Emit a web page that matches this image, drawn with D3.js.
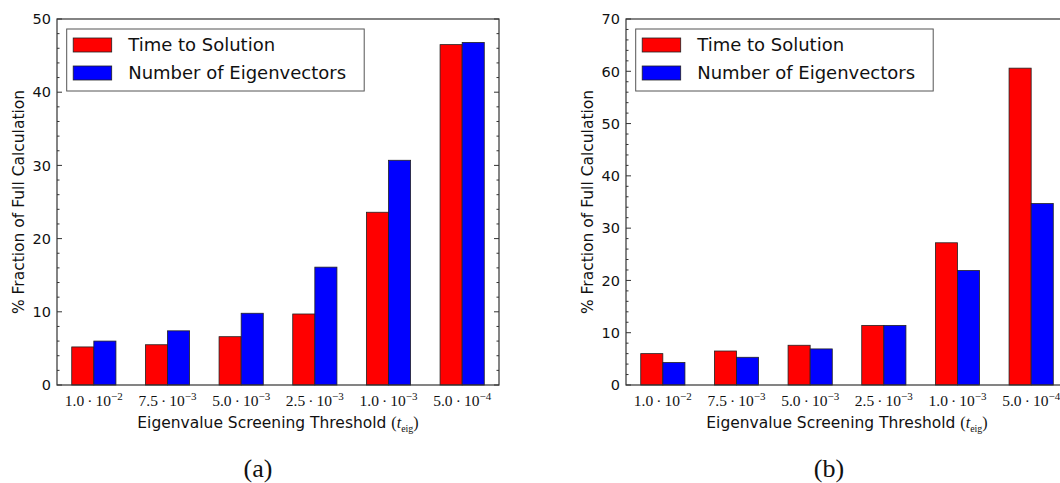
<!DOCTYPE html>
<html>
<head>
<meta charset="utf-8">
<script src="https://cdn.jsdelivr.net/npm/d3@7"></script>
<style>
  body { margin: 0; background: #fff; }
  svg { display: block; }
</style>
</head>
<body>
<div id="chart"></div>
<script>
// threshold categories (mantissa, exponent)
const thresholds = [
    ["1.0", "−2"], ["7.5", "−3"], ["5.0", "−3"],
    ["2.5", "−3"], ["1.0", "−3"], ["5.0", "−4"]
];
const seriesNames = ["Time to Solution", "Number of Eigenvectors"];
const seriesColors = ["#ff0000", "#0000ff"];

// panel (a)
const timeA = [5.2, 5.5, 6.6, 9.7, 23.6, 46.5];
const eigA = [6.0, 7.4, 9.8, 16.1, 30.7, 46.8];
const yTicksA = [0, 10, 20, 30, 40, 50];

// panel (b)
const timeB = [6.0, 6.5, 7.6, 11.4, 27.2, 60.6];
const eigB = [4.3, 5.3, 6.9, 11.4, 21.9, 34.7];
const yTicksB = [0, 10, 20, 30, 40, 50, 60, 70];

const W = 1060, H = 483;
const sansFont = "'DejaVu Sans', sans-serif";
const serifFont = "'Liberation Serif', 'DejaVu Serif', serif";

const svg = d3.select("#chart").append("svg")
    .attr("width", W)
    .attr("height", H);

const drawPanel = (opts) => {
    const { left, right, top, bottom, series, yMax, yTicks, caption, captionX } = opts;

    const x = d3.scaleLinear().domain([0, thresholds.length]).range([left, right]);
    const y = d3.scaleLinear().domain([0, yMax]).range([bottom, top]);

    const g = svg.append("g");

    // bars
    series.forEach((vals, s) => {
        g.append("g")
            .selectAll("rect")
            .data(vals)
            .join("rect")
            .attr("x", (d, i) => x(i + 0.2 + s * 0.3))
            .attr("width", x(0.3) - x(0))
            .attr("y", d => y(d))
            .attr("height", d => y(0) - y(d))
            .attr("fill", seriesColors[s])
            .attr("stroke", "#222")
            .attr("stroke-width", 0.8);
    });

    // minor + major ticks, inward on both sides
    const minor = d3.range(0, yMax + 0.001, 2);
    const tickG = g.append("g").attr("stroke", "#333").attr("stroke-width", 1);
    [[left, 1], [right, -1]].forEach(([xx, dir]) => {
        tickG.selectAll(null)
            .data(minor)
            .join("line")
            .attr("x1", xx)
            .attr("x2", d => xx + dir * (yTicks.includes(d) ? 5 : 2.5))
            .attr("y1", d => y(d))
            .attr("y2", d => y(d));
    });

    // frame
    g.append("rect")
        .attr("x", left)
        .attr("y", top)
        .attr("width", right - left)
        .attr("height", bottom - top)
        .attr("fill", "none")
        .attr("stroke", "#333")
        .attr("stroke-width", 1.2);

    // y tick labels
    g.append("g")
        .selectAll("text")
        .data(yTicks)
        .join("text")
        .attr("x", left - 6)
        .attr("y", d => y(d))
        .attr("dy", "0.36em")
        .attr("text-anchor", "end")
        .style("font", `14.5px ${sansFont}`)
        .attr("fill", "#111")
        .text(d => d);

    // x tick labels with exponents
    const xl = g.append("g")
        .selectAll("text")
        .data(thresholds)
        .join("text")
        .attr("x", (d, i) => x(i + 0.5))
        .attr("y", 406)
        .attr("text-anchor", "middle")
        .style("font", `15.5px ${serifFont}`)
        .attr("fill", "#111");
    xl.append("tspan").text(d => d[0] + "\u2009·\u200910");
    xl.append("tspan")
        .attr("dy", -6)
        .style("font-size", "11px")
        .text(d => d[1]);

    // axis labels
    const xLabel = g.append("text")
        .attr("x", (left + right) / 2)
        .attr("y", 428)
        .attr("text-anchor", "middle")
        .style("font", `15.5px ${sansFont}`)
        .attr("fill", "#111");
    xLabel.append("tspan").text("Eigenvalue Screening Threshold ");
    xLabel.append("tspan").style("font-family", serifFont).style("font-size", "16px").text("(");
    xLabel.append("tspan").style("font-family", serifFont).style("font-style", "italic").style("font-size", "16px").text("t");
    xLabel.append("tspan").style("font-family", serifFont).style("font-size", "10px").attr("dy", 4).text("eig");
    xLabel.append("tspan").style("font-family", serifFont).style("font-size", "16px").attr("dy", -4).text(")");

    g.append("text")
        .attr("transform", `translate(${left - 39},${(top + bottom) / 2}) rotate(-90)`)
        .attr("text-anchor", "middle")
        .attr("dy", "0.36em")
        .style("font", `15.5px ${sansFont}`)
        .attr("fill", "#111")
        .text("% Fraction of Full Calculation");

    // legend
    const lg = g.append("g").attr("transform", `translate(${left + 9.7},${top + 10})`);
    lg.append("rect")
        .attr("width", 297.5)
        .attr("height", 62)
        .attr("fill", "#fff")
        .attr("stroke", "#555")
        .attr("stroke-width", 1);
    seriesNames.forEach((name, s) => {
        const cy = 16 + s * 28;
        lg.append("rect")
            .attr("x", 6.5)
            .attr("y", cy - 7)
            .attr("width", 38.5)
            .attr("height", 14)
            .attr("fill", seriesColors[s])
            .attr("stroke", "#222")
            .attr("stroke-width", 0.8);
        lg.append("text")
            .attr("x", 61.5)
            .attr("y", cy)
            .attr("dy", "0.36em")
            .style("font", `18px ${sansFont}`)
            .attr("fill", "#111")
            .text(name);
    });

    // caption
    g.append("text")
        .attr("x", captionX)
        .attr("y", 477)
        .attr("text-anchor", "middle")
        .style("font", `26px ${serifFont}`)
        .attr("fill", "#111")
        .text(caption);
};

drawPanel({
    left: 57, right: 499, top: 19, bottom: 385,
    series: [timeA, eigA], yMax: 50, yTicks: yTicksA,
    caption: "(a)", captionX: 258
});

drawPanel({
    left: 626, right: 1068, top: 19, bottom: 385,
    series: [timeB, eigB], yMax: 70, yTicks: yTicksB,
    caption: "(b)", captionX: 829
});
</script>
</body>
</html>
